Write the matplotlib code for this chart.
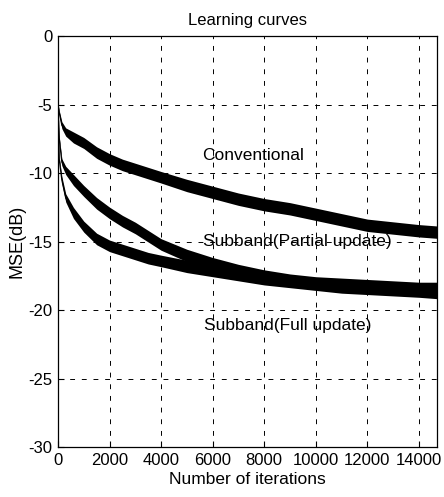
import matplotlib
matplotlib.use("Agg")
import matplotlib.pyplot as plt
import numpy as np

# ---- data ----
iterations = [0, 50, 150, 300, 600, 1000, 1500, 2000, 2500, 3000, 3500, 4000,
              5000, 6000, 7000, 8000, 9000, 10000, 11000, 12000, 13000, 14000, 14700]
conventional = [-5.0, -5.6, -6.5, -7.0, -7.4, -7.8, -8.5, -9.0, -9.4, -9.7, -10.0, -10.3,
                -10.9, -11.4, -11.9, -12.3, -12.6, -13.0, -13.4, -13.8, -14.0, -14.2, -14.3]
subband_partial = [-5.2, -7.5, -9.2, -9.8, -10.5, -11.3, -12.2, -12.9, -13.5, -14.0, -14.6, -15.2,
                   -16.0, -16.6, -17.1, -17.5, -17.8, -18.0, -18.1, -18.2, -18.3, -18.4, -18.4]
subband_full = [-5.2, -9.0, -10.5, -11.8, -12.9, -13.9, -14.8, -15.3, -15.6, -15.9, -16.2, -16.4,
                -16.8, -17.1, -17.4, -17.7, -17.9, -18.1, -18.3, -18.4, -18.5, -18.6, -18.7]
# half-width of the noisy band around each curve (dB)
noise_halfwidth = [0.1, 0.15, 0.25, 0.3, 0.4, 0.4, 0.42, 0.42, 0.42, 0.42, 0.42, 0.42,
                   0.45, 0.45, 0.45, 0.45, 0.45, 0.45, 0.45, 0.45, 0.45, 0.45, 0.45]

x_ticks = [0, 2000, 4000, 6000, 8000, 10000, 12000, 14000]
y_ticks = [0, -5, -10, -15, -20, -25, -30]

labels = ["Conventional", "Subband(Partial update)", "Subband(Full update)"]
label_pos = [(7570, -8.7), (9300, -15.0), (8900, -21.1)]

FONT = ["Liberation Sans", "DejaVu Sans"]

fig = plt.figure(figsize=(4.44, 4.97), dpi=100)
ax = fig.add_axes([0.1306, 0.0996, 0.8536, 0.828])

x = np.array(iterations)
hw = np.array(noise_halfwidth)
for series in (conventional, subband_partial, subband_full):
    s = np.array(series)
    ax.fill_between(x, s - hw, s + hw, color="black", lw=0, zorder=3)
    ax.plot(x, s, color="black", lw=0.9, zorder=3)

ax.set_xlim(0, 14700)
ax.set_ylim(-30, 0)
ax.set_xticks(x_ticks)
ax.set_yticks(y_ticks)
ax.set_xticklabels([str(t) for t in x_ticks], family=FONT, fontsize=12)
ax.set_yticklabels([str(t) for t in y_ticks], family=FONT, fontsize=12)
ax.tick_params(direction="in", length=4, width=0.8, pad=4, color="black")
ax.grid(True, color="black", linestyle=(0, (5, 7)), linewidth=0.7)
for sp in ax.spines.values():
    sp.set_linewidth(0.9)
    sp.set_color("black")

for txt, (tx, ty) in zip(labels, label_pos):
    ax.text(tx, ty, txt, ha="center", va="center", family=FONT, fontsize=12.5, zorder=4)

ax.set_title("Learning curves", family=FONT, fontsize=12, pad=8)
ax.set_xlabel("Number of iterations", family=FONT, fontsize=12.5, labelpad=3)
ax.set_ylabel("MSE(dB)", family=FONT, fontsize=13, labelpad=2)

fig.savefig("out.png", dpi=100)
